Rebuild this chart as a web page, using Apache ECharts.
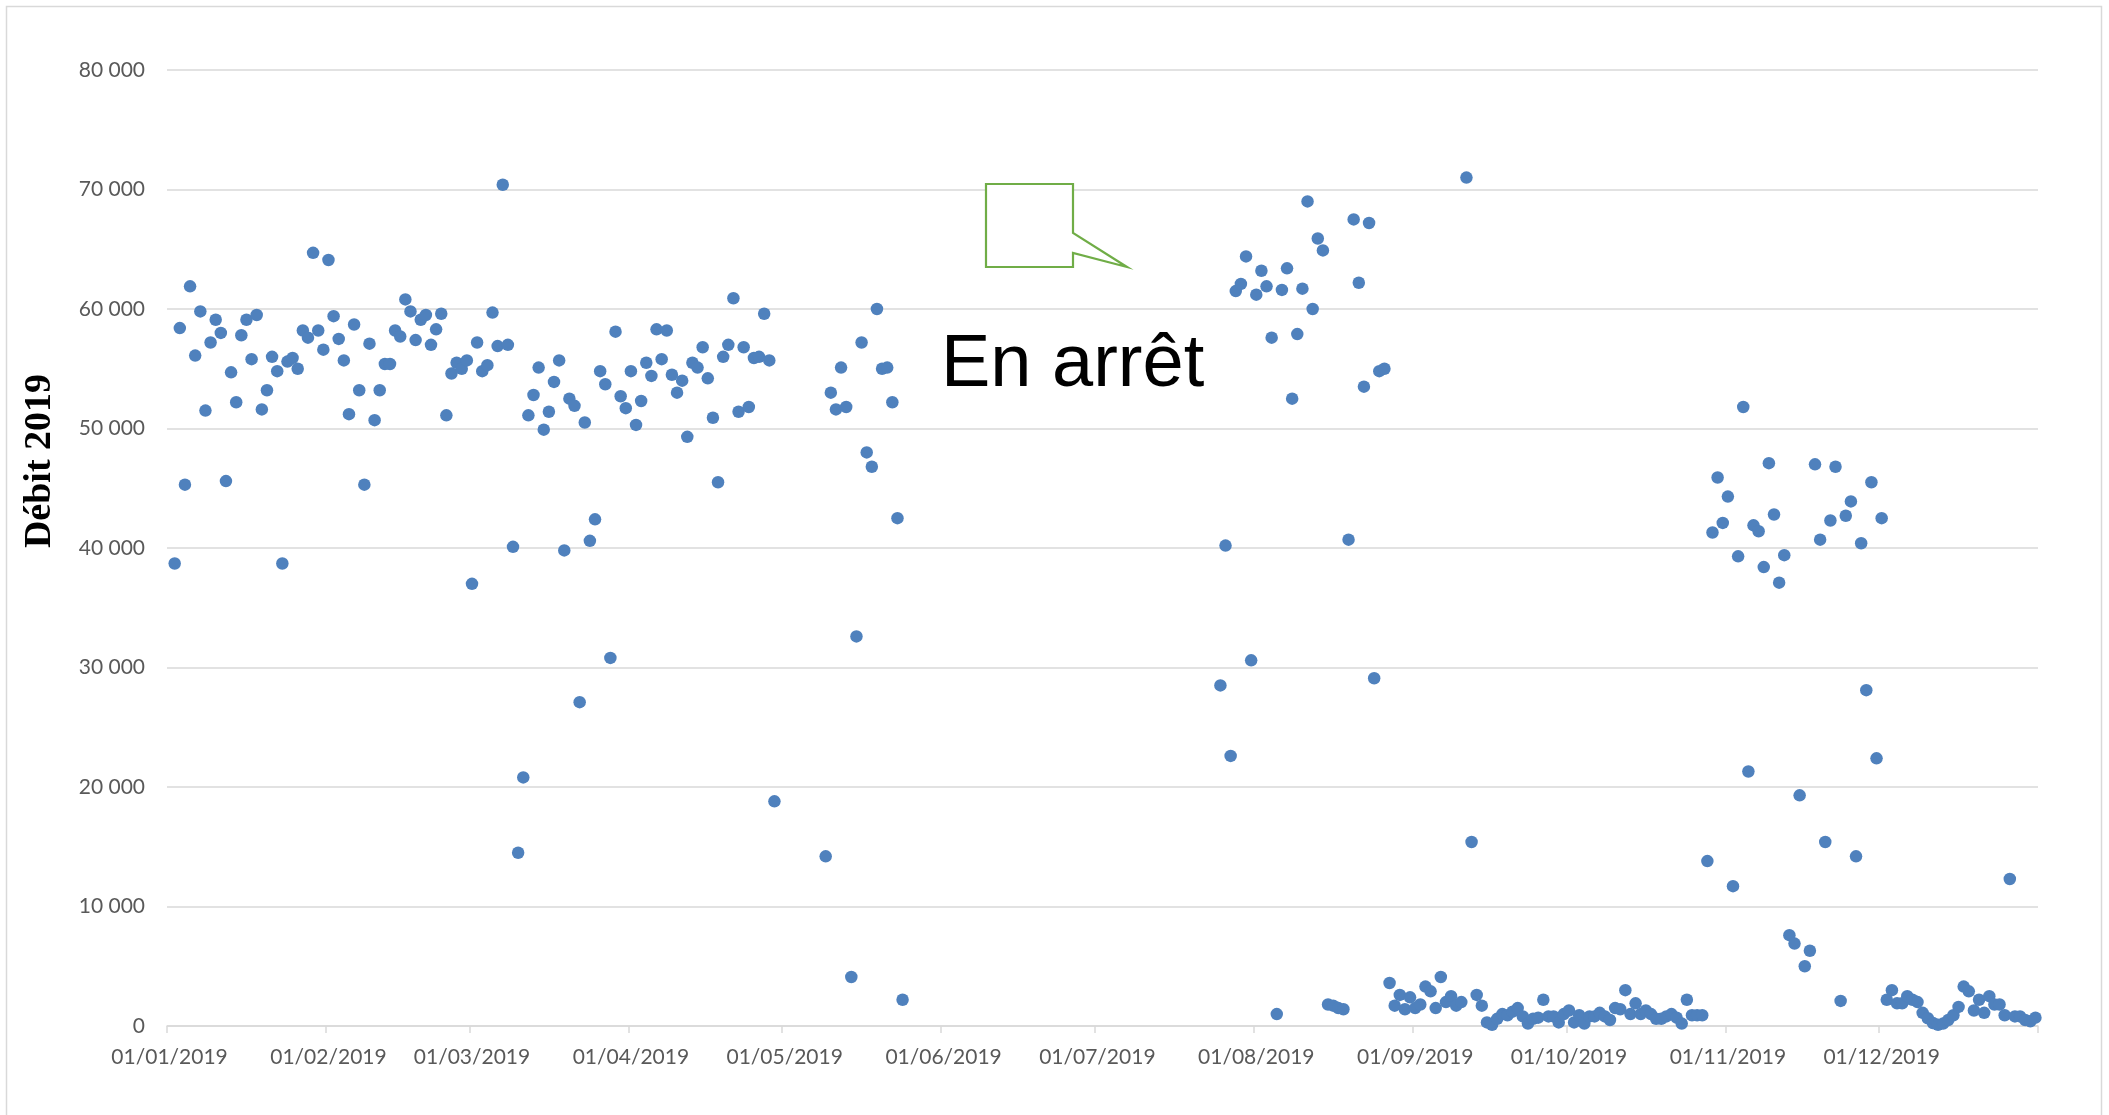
<!DOCTYPE html>
<html>
<head>
<meta charset="utf-8">
<script src="https://cdn.jsdelivr.net/npm/echarts@6/dist/echarts.min.js"></script>
<style>
html,body{margin:0;padding:0;background:#fff;}
#chart{width:2109px;height:1115px;}
</style>
</head>
<body>
<div id="chart"></div>
<script>
// Daily flow values for 2019 (null = no measurement)
const jan = [null,38700,58400,45300,61900,56100,59800,51500,57200,59100,58000,45600,54700,52200,57800,59100,55800,59500,51600,53200,56000,54800,38700,55600,55900,55000,58200,57600,64700,58200,56600];
const feb = [64100,59400,57500,55700,51200,58700,53200,45300,57100,50700,53200,55400,55400,58200,57700,60800,59800,57400,59100,59500,57000,58300,59600,51100,54600,55500,55000,55700];
const mar = [37000,57200,54800,55300,59700,56900,70400,57000,40100,14500,20800,51100,52800,55100,49900,51400,53900,55700,39800,52500,51900,27100,50500,40600,42400,54800,53700,30800,58100,52700,51700];
const apr = [54800,50300,52300,55500,54400,58300,55800,58200,54500,53000,54000,49300,55500,55100,56800,54200,50900,45500,56000,57000,60900,51400,56800,51800,55900,56000,59600,55700,18800,null];
const may = [null,null,null,null,null,null,null,null,14200,53000,51600,55100,51800,4100,32600,57200,48000,46800,60000,55000,55100,52200,42500,2200,null,null,null,null,null,null,null];
const jun = [null,null,null,null,null,null,null,null,null,null,null,null,null,null,null,null,null,null,null,null,null,null,null,null,null,null,null,null,null,null];
const jul = [null,null,null,null,null,null,null,null,null,null,null,null,null,null,null,null,null,null,null,null,null,null,null,null,28500,40200,22600,61500,62100,64400,30600];
const aug = [61200,63200,61900,57600,1000,61600,63400,52500,57900,61700,69000,60000,65900,64900,1800,1700,1500,1400,40700,67500,62200,53500,67200,29100,54800,55000,3600,1700,2600,1400,2400];
const sep = [1500,1800,3300,2900,1500,4100,2000,2500,1700,2000,71000,15400,2600,1700,300,100,600,1000,900,1200,1500,800,200,600,700,2200,800,800,300,1000];
const oct = [1300,300,900,200,800,800,1100,800,500,1500,1400,3000,1000,1900,1000,1300,1000,600,600,800,1000,700,200,2200,900,900,900,13800,41300,45900,42100];
const nov = [44300,11700,39300,51800,21300,41900,41400,38400,47100,42800,37100,39400,7600,6900,19300,5000,6300,47000,40700,15400,42300,46800,2100,42700,43900,14200,40400,28100,45500,22400];
const dec = [42500,2200,3000,1900,1900,2500,2200,2000,1100,650,250,100,200,500,900,1600,3300,2900,1300,2200,1100,2500,1800,1800,900,12300,800,800,500,400,700];

const YEAR = 2019;
const months = [jan,feb,mar,apr,may,jun,jul,aug,sep,oct,nov,dec];
const yTicks = [0,10000,20000,30000,40000,50000,60000,70000,80000];
const yTitle = 'Débit 2019';
const note = 'En arrêt';

const pad = n => (n < 10 ? '0' : '') + n;
const days = [];
const points = [];
months.forEach((arr, m) => {
  arr.forEach((v, i) => {
    const lab = pad(i + 1) + '/' + pad(m + 1) + '/' + YEAR;
    days.push(lab);
    if (v !== null) points.push([lab, v]);
  });
});
const isMonthStart = (idx, val) => typeof val === 'string' && val.slice(0, 3) === '01/';
const grey = '#d9d9d9';
const fontFam = 'Lato, "Open Sans", sans-serif';

const chart = echarts.init(document.getElementById('chart'), null, {renderer: 'canvas'});
chart.setOption({
  animation: false,
  backgroundColor: '#ffffff',
  grid: {left: 167, right: 71, top: 70, bottom: 89, containLabel: false},
  xAxis: {
    type: 'category',
    data: days,
    boundaryGap: true,
    axisLine: {show: true, lineStyle: {color: grey, width: 1.5}},
    axisTick: {show: true, interval: isMonthStart, length: 7, lineStyle: {color: grey, width: 1.5}},
    axisLabel: {interval: isMonthStart, color: '#595959', fontFamily: fontFam, fontSize: 21, margin: 21},
    splitLine: {show: false}
  },
  yAxis: {
    type: 'value',
    min: yTicks[0],
    max: yTicks[yTicks.length - 1],
    interval: yTicks[1] - yTicks[0],
    axisLine: {show: false},
    axisTick: {show: false},
    axisLabel: {
      color: '#595959', fontFamily: fontFam, fontSize: 21, margin: 22,
      formatter: v => String(v).replace(/\B(?=(\d{3})+(?!\d))/g, ' ')
    },
    splitLine: {show: true, lineStyle: {color: grey, width: 1.5}}
  },
  series: [{
    type: 'scatter',
    data: points,
    symbol: 'circle',
    symbolSize: 12.5,
    itemStyle: {color: '#4f81bd', opacity: 1},
    z: 3
  }],
  graphic: [
    {type: 'rect', shape: {x: 6.5, y: 6.5, width: 2095, height: 1120}, style: {fill: 'none', stroke: grey, lineWidth: 1.5}, silent: true, z: 0},
    {type: 'text', x: 40, y: 461, rotation: Math.PI / 2,
     style: {text: yTitle, font: 'bold 38px "Liberation Serif", "Times New Roman", serif', fill: '#000', align: 'center', verticalAlign: 'middle'}},
    {type: 'polygon', z: 10,
     shape: {points: [[986,184],[1073,184],[1073,233],[1127,267],[1073,253],[1073,267],[986,267]]},
     style: {fill: '#ffffff', stroke: '#70ad47', lineWidth: 2.2}},
    {type: 'text', x: 941, y: 366, z: 10,
     style: {text: note, font: '74px "Liberation Sans", Arial, sans-serif', fill: '#000', align: 'left', verticalAlign: 'middle'}}
  ]
});
</script>
</body>
</html>
